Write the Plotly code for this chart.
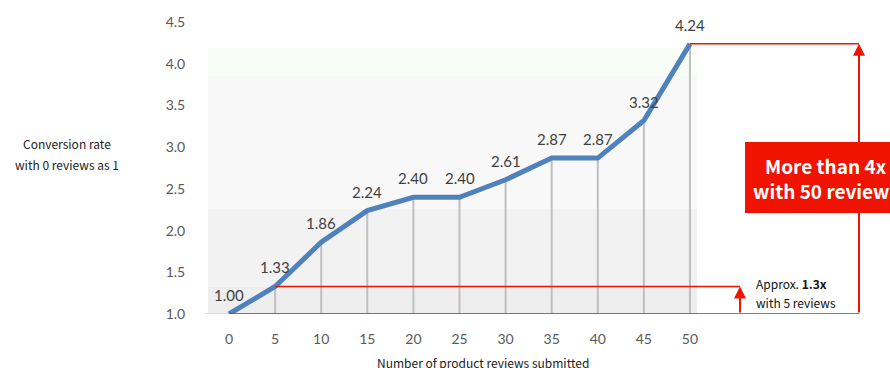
import plotly.graph_objects as go

# ---- data ----
reviews = [0, 5, 10, 15, 20, 25, 30, 35, 40, 45, 50]
conversion = [1.00, 1.33, 1.86, 2.24, 2.40, 2.40, 2.61, 2.87, 2.87, 3.32, 4.24]
x_ticks = [0, 5, 10, 15, 20, 25, 30, 35, 40, 45, 50]
y_ticks = [1.0, 1.5, 2.0, 2.5, 3.0, 3.5, 4.0, 4.5]
y_tick_labels = ["1.0", "1.5", "2.0", "2.5", "3.0", "3.5", "4.0", "4.5"]
labels = [f"{v:.2f}" for v in conversion]

# ---- layout geometry (pixels) ----
W, H = 890, 368
ML, MR, MT, MB = 200, 0, 18, 54
XR = [-3.15, 71.7]
YR = [1.0, 4.55]
PW, PH = W - ML - MR, H - MT - MB


def px_to_x(px):
    return XR[0] + (px - ML) / PW * (XR[1] - XR[0])


def py_to_y(py):
    return YR[0] + (H - MB - py) / PH * (YR[1] - YR[0])


def px_paper(px):
    return (px - ML) / PW


def py_paper(py):
    return (H - MB - py) / PH


RED = "#f01400"
LINE_BLUE = "#4f81bd"

fig = go.Figure()

shapes = []
# background bands
bx0, bx1 = px_to_x(208), px_to_x(697)
bands = [
    (1.0, conversion[1], "#eeeeee"),
    (conversion[1], py_to_y(209), "#f2f2f2"),
    (py_to_y(209), py_to_y(76), "#f8f8f8"),
    (py_to_y(76), py_to_y(48), "#f9fdf7"),
]
for y0, y1, c in bands:
    shapes.append(dict(type="rect", xref="x", yref="y", x0=bx0, x1=bx1, y0=y0, y1=y1,
                       fillcolor=c, line=dict(width=0), layer="below"))
# gray baseline
shapes.append(dict(type="line", xref="x", yref="y", x0=px_to_x(205), x1=bx1, y0=1.0, y1=1.0,
                   line=dict(color="#d9d9d9", width=2), layer="below"))
# drop lines
for xv, yv in zip(reviews[1:], conversion[1:]):
    shapes.append(dict(type="line", xref="x", yref="y", x0=xv, x1=xv, y0=1.0, y1=yv,
                       line=dict(color="#bfbfbf", width=2), layer="below"))

# red annotation lines
arrow5_x = px_to_x(740)
arrow50_x = px_to_x(859)
shapes.append(dict(type="line", xref="x", yref="y", x0=reviews[0], x1=arrow50_x, y0=conversion[0], y1=conversion[0],
                   line=dict(color=RED, width=1.5)))
shapes.append(dict(type="line", xref="x", yref="y", x0=reviews[1], x1=arrow5_x, y0=conversion[1], y1=conversion[1],
                   line=dict(color=RED, width=1.5)))
shapes.append(dict(type="line", xref="x", yref="y", x0=reviews[-1], x1=arrow50_x, y0=conversion[-1], y1=conversion[-1],
                   line=dict(color=RED, width=1.5)))
# red box
shapes.append(dict(type="rect", xref="x", yref="y", x0=px_to_x(745), x1=px_to_x(900),
                   y0=py_to_y(213), y1=py_to_y(142), fillcolor=RED, line=dict(width=0)))

fig.add_trace(go.Scatter(
    x=reviews, y=conversion, mode="lines",
    line=dict(color=LINE_BLUE, width=5), hoverinfo="skip", showlegend=False,
))

annotations = []
# data labels
for xv, yv, t in zip(reviews, conversion, labels):
    annotations.append(dict(x=xv, y=yv, xref="x", yref="y", text=t, showarrow=False,
                            xanchor="center", yanchor="middle",
                            yshift=19, font=dict(family="Lato", size=15, color="#404040")))
# arrows
annotations.append(dict(x=arrow5_x, y=conversion[1], ax=arrow5_x, ay=conversion[0],
                        xref="x", yref="y", axref="x", ayref="y", text="", showarrow=True,
                        arrowhead=2, arrowsize=1.2, arrowwidth=2, arrowcolor=RED))
annotations.append(dict(x=arrow50_x, y=conversion[-1], ax=arrow50_x, ay=conversion[0],
                        xref="x", yref="y", axref="x", ayref="y", text="", showarrow=True,
                        arrowhead=2, arrowsize=1.2, arrowwidth=2, arrowcolor=RED))


def text_at(px, py, text, size, color, xanchor="center", bold=False):
    annotations.append(dict(x=px_paper(px), y=py_paper(py), xref="paper", yref="paper",
                            showarrow=False, xanchor=xanchor, yanchor="middle",
                            text=f"<b>{text}</b>" if bold else text,
                            font=dict(family="Noto Sans CJK JP", size=size, color=color)))


# red box text
text_at(826, 165, "More than 4x", 19, "white", bold=True)
text_at(826, 190, "with 50 reviews", 19, "white", bold=True)
# 1.3x text
text_at(754, 283, "Approx. <b>1.3x</b>", 12, "#111111", xanchor="left")
text_at(754, 302, "with 5 reviews", 12, "#111111", xanchor="left")
# y axis title
text_at(67, 143, "Conversion rate", 12, "#222222")
text_at(67, 164, "with 0 reviews as 1", 12, "#222222")
# x axis title
text_at(483, 362, "Number of product reviews submitted", 12, "#222222")

fig.update_layout(
    width=W, height=H, margin=dict(l=ML, r=MR, t=MT, b=MB),
    paper_bgcolor="white", plot_bgcolor="white",
    shapes=shapes, annotations=annotations,
    xaxis=dict(range=XR, tickvals=x_ticks, ticktext=[str(v) for v in x_ticks],
               showgrid=False, zeroline=False, showline=False,
               ticks="outside", ticklen=12, tickcolor="rgba(0,0,0,0)",
               tickfont=dict(family="Lato", size=14, color="#595959")),
    yaxis=dict(range=YR, tickvals=y_ticks, ticktext=y_tick_labels,
               showgrid=False, zeroline=False, showline=False,
               ticks="outside", ticklen=11, tickcolor="rgba(0,0,0,0)",
               tickfont=dict(family="Lato", size=14, color="#595959")),
)

fig.write_html("out.html")
